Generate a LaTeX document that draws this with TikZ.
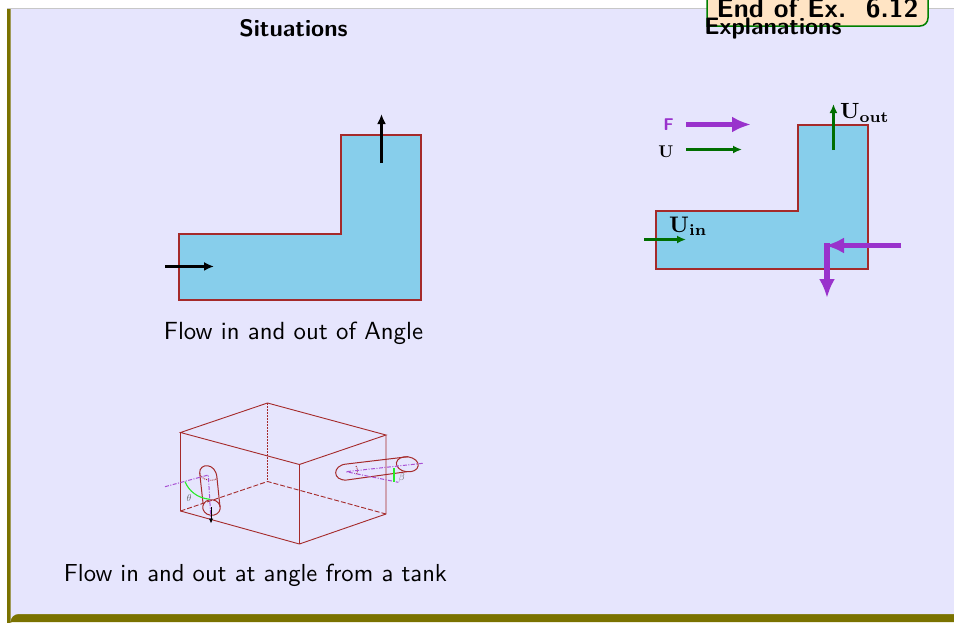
\documentclass[tikz,border=0pt]{standalone}
\usepackage{amsmath}
\usetikzlibrary{arrows.meta}
\definecolor{panel}{RGB}{230,229,253}
\definecolor{rim}{RGB}{122,114,0}
\definecolor{wall}{RGB}{165,42,42}
\definecolor{water}{RGB}{135,206,235}
\definecolor{force}{RGB}{153,50,204}
\definecolor{dgreen}{RGB}{0,110,0}
\definecolor{tagfill}{RGB}{255,228,196}
\definecolor{tagline}{RGB}{0,128,0}
\definecolor{lime}{RGB}{40,235,40}
\newcommand{\sctxt}[2]{\scalebox{#1}{\fontsize{10}{12}\selectfont #2}}
\tikzset{
 x=1pt,y=-1pt,
 wallline/.style={draw=wall,line width=1.3pt},
 tank/.style={draw=wall,line width=.9pt},
 sitarrow/.style={draw=black,line width=2.4pt,-{Latex[length=10pt,width=9pt]}},
 uarrow/.style={draw=dgreen,line width=2.2pt,-{Latex[length=9pt,width=8pt]}},
 farrow/.style={draw=force,line width=5.5pt,-{Latex[length=19pt,width=16pt]}},
 axisline/.style={draw=force!85!white,line width=1pt,dash pattern=on 4pt off 1.5pt on 1pt off 1.5pt},
 anglearc/.style={draw=lime,line width=1.1pt},
 lbl/.style={inner sep=0pt,text=black},
 smallgr/.style={font=\fontsize{10}{12}\selectfont,text=black!60,inner sep=0pt}
}
\begin{document}
\begin{tikzpicture}
\useasboundingbox (0,0) rectangle (954,622);
\fill[white] (0,0) rectangle (954,622);
\fill[rim] (7,8.5) -- (970,8.5) -- (970,622) -- (13,622) arc (270:180:6) -- cycle;
\fill[panel] (10.5,9) -- (970,9) -- (970,614) -- (18.5,614) arc (270:180:8) -- cycle;
\draw[black!22,line width=.8pt] (7,8.5) -- (954,8.5);
% tag
\path[fill=tagfill,draw=tagline,line width=1.5pt] (707,-8) -- (707,26) -- (920,26) arc (90:0:8) -- (928,-8);
\node[lbl] (tag) at (817.5,8.5) {\sctxt{2.68}{\sffamily\bfseries End of Ex.\ \ 6.12}};
% headings
\node[lbl] (h1) at (293.5,28.5) {\sctxt{2.38}{\sffamily\bfseries Situations}};
\node[lbl] (h2) at (773,29) {\sctxt{2.38}{\sffamily\bfseries Explanations}};
% first duct
\path[fill=water,wallline] (341,135) -- (421,135) -- (421,300) -- (179,300) -- (179,234) -- (341,234) -- cycle;
\coordinate (s1) at (165,266.45); \coordinate (s2) at (214,266.45);
\coordinate (s3) at (381.5,163); \coordinate (s4) at (381.5,114);
\draw[sitarrow] (s1) -- (s2);
\draw[sitarrow] (s3) -- (s4);
\node[lbl] (c1) at (293.5,333) {\sctxt{2.48}{\sffamily Flow in and out of Angle}};
\node[lbl] (c2) at (255.5,575) {\sctxt{2.46}{\sffamily Flow in and out at angle from a tank}};
% second duct
\path[fill=water,wallline] (798,125) -- (868,125) -- (868,269) -- (656,269) -- (656,211) -- (798,211) -- cycle;
\coordinate (u1) at (644,239.5); \coordinate (u2) at (686,239.5);
\coordinate (u3) at (833.45,150); \coordinate (u4) at (833.45,104);
\coordinate (l1) at (686,124.5); \coordinate (l2) at (751,124.5);
\coordinate (l3) at (686,149.5); \coordinate (l4) at (742,149.5);
\coordinate (f1) at (901,245.5); \coordinate (f2) at (825,245.5);
\coordinate (f3) at (827,243); \coordinate (f4) at (827,298);
\draw[uarrow] (u1) -- (u2);
\draw[uarrow] (u3) -- (u4);
\draw[uarrow] (l3) -- (l4);
\draw[farrow] (l1) -- (l2);
\draw[farrow] (f1) -- (f2);
\draw[farrow] (f3) -- (f4);
\node[lbl,text=force] (lf) at (668.5,125) {\sctxt{1.7}{\sffamily\bfseries F}};
\node[lbl] (lu) at (666,152) {\sctxt{1.7}{$\mathbf{U}$}};
\node[lbl,anchor=west] (uo) at (840,113) {\sctxt{2.2}{$\mathbf{U_{out}}$}};
\node[lbl,anchor=west] (ui) at (669,226) {\sctxt{2.25}{$\mathbf{U_{in}}$}};
% tank
\coordinate (t1) at (180.5,432.5); \coordinate (t2) at (267.5,403); \coordinate (t3) at (386,435); \coordinate (t4) at (299.4,464.5);
\coordinate (b1) at (180.5,511); \coordinate (b2) at (267.5,481.5); \coordinate (b3) at (386,514); \coordinate (b4) at (299.4,544);
\draw[tank] (t1) -- (t2) -- (t3) -- (t4) -- cycle;
\draw[tank] (t1) -- (b1) -- (b4) -- (b3) -- (t3);
\draw[tank] (t4) -- (b4);
\draw[tank,dash pattern=on 1.5pt off 1.5pt] (t2) -- (b2);
\draw[tank,dash pattern=on 5pt off 2pt] (b1) -- (b2) -- (b3);
% left pipe
\draw[tank,line width=1pt] (203,503) -- (199.7,473) .. controls (199,463) and (216,462) .. (217,478) -- (220,507);
\draw[tank,line width=1pt,rotate around={-8:(211.5,507.5)}] (211.5,507.5) ellipse [x radius=8.8, y radius=7.8];
\draw[tank,densely dotted] (199.7,473) .. controls (201,481) and (215,482) .. (217,478);
\coordinate (la1) at (165,486.7); \coordinate (la2) at (208.3,475); \coordinate (la3) at (211,521);
\draw[axisline] (la1) -- (la2) -- (la3);
\coordinate (la4) at (211,507); \coordinate (la5) at (211,523.5);
\draw[draw=black,line width=.9pt,-{Latex[length=5pt,width=4.5pt]}] (la4) -- (la5);
\draw[anglearc] (185,481.7) .. controls (189,491) and (197,498) .. (210,499.3);
\node[smallgr] (theta) at (189,497.7) {$\theta$};
% right pipe
\draw[tank,line width=1pt] (346.7,464) -- (408,456.7) (346.7,480) -- (406.7,471.7);
\draw[tank,line width=1pt] (346.7,464) .. controls (332,465) and (332,481) .. (346.7,480);
\draw[tank,line width=1pt,rotate around={-8:(407.3,464.3)}] (407.3,464.3) ellipse [x radius=11, y radius=7.5];
\draw[tank,densely dotted] (356,466) .. controls (358,469) and (358,472) .. (356,475);
\coordinate (ra1) at (346,471.7); \coordinate (ra2) at (422.7,463.3); \coordinate (ra3) at (398.3,482.3);
\draw[axisline] (ra2) -- (ra1) -- (ra3);
\draw[anglearc] (394,468) -- (394,482);
\node[smallgr] (beta) at (401.7,477.7) {$\beta$};
\end{tikzpicture}
\end{document}
